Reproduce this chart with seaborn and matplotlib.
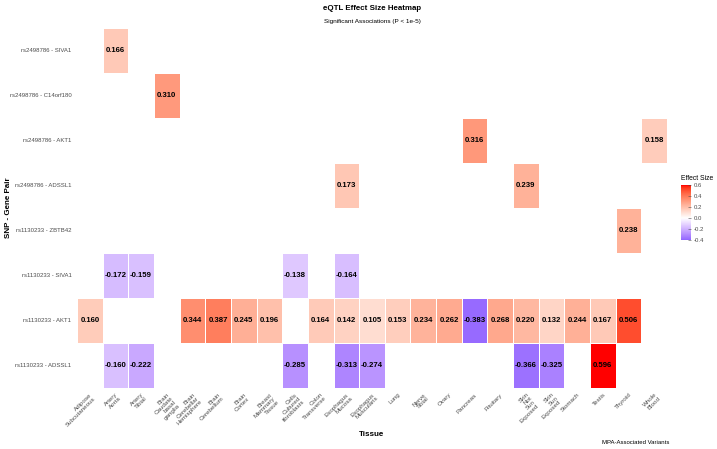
import numpy as np
import pandas as pd
import matplotlib
matplotlib.use("Agg")
import matplotlib.pyplot as plt
from matplotlib.colors import ListedColormap, Normalize
import matplotlib.cm as cm
import seaborn as sns

tissues = ["Adipose Subcutaneous", "Artery Aorta", "Artery Tibial",
           "Brain Caudate basal ganglia", "Brain Cerebellar Hemisphere",
           "Brain Cerebellum", "Brain Cortex", "Breast Mammary Tissue",
           "Cells Cultured fibroblasts", "Colon Transverse", "Esophagus Mucosa",
           "Esophagus Muscularis", "Lung", "Nerve Tibial", "Ovary", "Pancreas",
           "Pituitary", "Skin Not Sun Exposed", "Skin Sun Exposed", "Stomach",
           "Testis", "Thyroid", "Whole Blood"]

pairs = ["rs2498786 - SIVA1", "rs2498786 - C14orf180", "rs2498786 - AKT1",
         "rs2498786 - ADSSL1", "rs1130233 - ZBTB42", "rs1130233 - SIVA1",
         "rs1130233 - AKT1", "rs1130233 - ADSSL1"]

n = np.nan
rs2498786_SIVA1 = [n, 0.166, n, n, n, n, n, n, n, n, n, n, n, n, n, n, n, n, n, n, n, n, n]
rs2498786_C14orf180 = [n, n, n, 0.310, n, n, n, n, n, n, n, n, n, n, n, n, n, n, n, n, n, n, n]
rs2498786_AKT1 = [n, n, n, n, n, n, n, n, n, n, n, n, n, n, n, 0.316, n, n, n, n, n, n, 0.158]
rs2498786_ADSSL1 = [n, n, n, n, n, n, n, n, n, n, 0.173, n, n, n, n, n, n, 0.239, n, n, n, n, n]
rs1130233_ZBTB42 = [n, n, n, n, n, n, n, n, n, n, n, n, n, n, n, n, n, n, n, n, n, 0.238, n]
rs1130233_SIVA1 = [n, -0.172, -0.159, n, n, n, n, n, -0.138, n, -0.164, n, n, n, n, n, n, n, n, n, n, n, n]
rs1130233_AKT1 = [0.160, n, n, n, 0.344, 0.387, 0.245, 0.196, n, 0.164, 0.142, 0.105,
                  0.153, 0.234, 0.262, -0.383, 0.268, 0.220, 0.132, 0.244, 0.167, 0.506, n]
rs1130233_ADSSL1 = [n, -0.160, -0.222, n, n, n, n, n, -0.285, n, -0.313, -0.274,
                    n, n, n, n, n, -0.366, -0.325, n, 0.596, n, n]

values = [rs2498786_SIVA1, rs2498786_C14orf180, rs2498786_AKT1, rs2498786_ADSSL1,
          rs1130233_ZBTB42, rs1130233_SIVA1, rs1130233_AKT1, rs1130233_ADSSL1]

cbar_ticks = [-0.4, -0.2, 0.0, 0.2, 0.4, 0.6]
cbar_labels = ["-0.4", "-0.2", "0.0", "0.2", "0.4", "0.6"]

df = pd.DataFrame(values, index=pairs, columns=tissues)

# ---- ggplot-like gradient2 (Lab interpolation) ----
M = np.array([[0.4124, 0.3576, 0.1805], [0.2126, 0.7152, 0.0722], [0.0193, 0.1192, 0.9505]])
WHITE = np.array([0.95047, 1.0, 1.08883])

def srgb_to_lab(rgb):
    rgb = np.asarray(rgb, float)
    lin = np.where(rgb <= 0.04045, rgb / 12.92, ((rgb + 0.055) / 1.055) ** 2.4)
    xyz = M @ lin / WHITE
    f = np.where(xyz > 0.008856, np.cbrt(xyz), 7.787 * xyz + 16 / 116)
    return np.array([116 * f[1] - 16, 500 * (f[0] - f[1]), 200 * (f[1] - f[2])])

def lab_to_srgb(lab):
    L, a, b = lab
    fy = (L + 16) / 116
    f = np.array([fy + a / 500, fy, fy - b / 200])
    xyz = np.where(f ** 3 > 0.008856, f ** 3, (f - 16 / 116) / 7.787) * WHITE
    lin = np.clip(np.linalg.inv(M) @ xyz, 0, 1)
    rgb = np.where(lin <= 0.0031308, 12.92 * lin, 1.055 * lin ** (1 / 2.4) - 0.055)
    return np.clip(rgb, 0, 1)

low, mid, high = srgb_to_lab([0, 0, 1]), srgb_to_lab([1, 1, 1]), srgb_to_lab([1, 0, 0])
cols = []
for t in np.linspace(0, 1, 512):
    if t < 0.5:
        cols.append(lab_to_srgb(low + (mid - low) * (t / 0.5)))
    else:
        cols.append(lab_to_srgb(mid + (high - mid) * ((t - 0.5) / 0.5)))
cmap = ListedColormap(cols)

vmax_abs = float(np.nanmax(np.abs(df.values)))
cb_lo, cb_hi = cbar_ticks[0], cbar_ticks[-1]

plt.rcParams['font.family'] = ['Liberation Sans', 'DejaVu Sans']

fig = plt.figure(figsize=(7.17, 4.49), dpi=100)
ax = fig.add_axes([77 / 717, 1 - 388 / 449, 590 / 717, 360 / 449])

sns.heatmap(df, ax=ax, cmap=cmap, vmin=-vmax_abs, vmax=vmax_abs, annot=True, fmt=".3f",
            linewidths=0.6, linecolor="white", cbar=False,
            annot_kws=dict(color="black", fontsize=5.6, fontweight="bold"))

ax.tick_params(axis="x", length=0, pad=3)
ax.tick_params(axis="y", length=0, pad=4)
ax.set_xticks(np.arange(len(tissues)) + 0.5)
ax.set_xticklabels([t.replace(" ", "\n") for t in tissues], rotation=45, ha="right",
                   va="top", rotation_mode="anchor", fontsize=4.5, color="#4D4D4D",
                   linespacing=1.0)
ax.set_yticks(np.arange(len(pairs)) + 0.5)
ax.set_yticklabels(pairs, rotation=0, fontsize=4.3, color="#4D4D4D")
ax.set_xlabel("Tissue", fontsize=5.8, fontweight="bold")
ax.set_ylabel("SNP - Gene Pair", fontsize=5.8, fontweight="bold")
ax.xaxis.set_label_coords(0.5, -0.12)
ax.yaxis.set_label_coords((12 - 77) / 590, 0.5)

fig.text(372 / 717, 1 - 8 / 449, "eQTL Effect Size Heatmap", ha="center", va="center",
         fontsize=5.7, fontweight="bold")
fig.text(372 / 717, 1 - 21 / 449, "Significant Associations (P < 1e-5)", ha="center",
         va="center", fontsize=4.6)
fig.text(669 / 717, 1 - 443 / 449, "MPA-Associated Variants", ha="right", va="center",
         fontsize=4.3)

# colorbar
cax = fig.add_axes([681 / 717, 1 - 240 / 449, 10 / 717, 55 / 449])
sm = cm.ScalarMappable(norm=Normalize(-vmax_abs, vmax_abs), cmap=cmap)
cb = fig.colorbar(sm, cax=cax, boundaries=np.linspace(cb_lo, cb_hi, 300))
cb.outline.set_visible(False)
cb.set_ticks(cbar_ticks)
cb.ax.set_ylim(cb_lo, cb_hi)
cb.ax.tick_params(labelsize=4.3, colors="#4D4D4D", length=2, width=0.4, direction="in", pad=2)
for t in cb.ax.get_yticklines():
    t.set_color("white")
cb.ax.set_yticklabels(cbar_labels, color="#4D4D4D")
fig.text(681 / 717, 1 - 178 / 449, "Effect Size", ha="left", va="center", fontsize=4.9)

fig.savefig("out.png", dpi=100, facecolor="white")
